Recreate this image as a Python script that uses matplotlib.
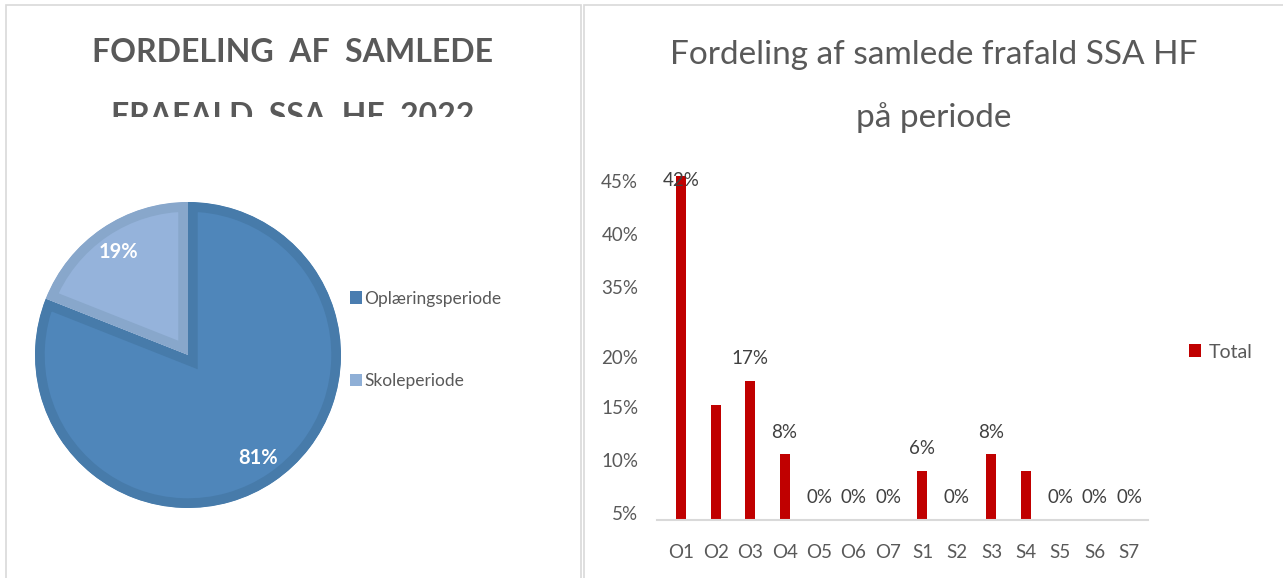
import matplotlib.pyplot as plt
from matplotlib.patches import Patch, Rectangle
from matplotlib.transforms import Bbox

plt.rcParams['font.family'] = ['Lato', 'DejaVu Sans']

# pie data
pie_labels = ['Oplæringsperiode', 'Skoleperiode']
pie_values = [81, 19]
pie_colors = ['#4F86BA', '#95B3DB']
pie_edges = ['#477BAA', '#88A7CB']

# bar data
periods = ['O1', 'O2', 'O3', 'O4', 'O5', 'O6', 'O7',
           'S1', 'S2', 'S3', 'S4', 'S5', 'S6', 'S7']
totals = [42, 14, 17, 8, 0, 0, 0, 6, 0, 8, 6, 0, 0, 0]
# O2 and S4 had no visible label in the original
bar_texts = ['42%', '', '17%', '8%', '0%', '0%', '0%',
             '6%', '0%', '8%', '', '0%', '0%', '0%']
# the y axis labels in the source don't sit on a regular scale
ytick_pos = [41.3, 34.9, 28.4, 19.9, 13.8, 7.3, 0.85]
ytick_txt = ['45%', '40%', '35%', '20%', '15%', '10%', '5%']

W, H = 1283, 578
fig = plt.figure(figsize=(W / 100, H / 100), dpi=100)

def px_axes(x0, y0, x1, y1):
    return fig.add_axes([x0 / W, 1 - y1 / H, (x1 - x0) / W, (y1 - y0) / H])

grey = '#595959'

# panel borders
fig.add_artist(Rectangle((5.5 / W, -0.1), (581 - 5.5) / W, 1.1 - 5.5 / H,
                         transform=fig.transFigure, fill=False,
                         edgecolor='#D9D9D9', linewidth=1.2))
fig.add_artist(Rectangle((584 / W, -0.1), 1.0, 1.1 - 5.5 / H,
                         transform=fig.transFigure, fill=False,
                         edgecolor='#D9D9D9', linewidth=1.2))

# ---- left: pie ----
fig.text(293 / W, 1 - 53 / H, 'FORDELING  AF  SAMLEDE', ha='center', va='center',
         fontsize=23, fontweight='bold', color=grey)
t2 = fig.text(293 / W, 1 - 116 / H, 'FRAFALD  SSA  HF  2022', ha='center', va='center',
              fontsize=23, fontweight='bold', color=grey)
t2.set_clip_box(Bbox.from_extents(0, H - 117, 580, H))
t2.set_clip_on(True)

ax_pie = px_axes(35, 202, 341, 508)
wedges, _, autotexts = ax_pie.pie(
    pie_values, colors=pie_colors, startangle=90, counterclock=False,
    autopct='%1.0f%%', pctdistance=0.81,
    textprops=dict(color='white', fontweight='bold', fontsize=14.5),
    wedgeprops=dict(linewidth=14, joinstyle='miter'))
for w, ec in zip(wedges, pie_edges):
    w.set_edgecolor(ec)
    w.set_clip_on(True)
    w.set_clip_path(w)
ax_pie.set_xlim(-1, 1)
ax_pie.set_ylim(-1, 1)

handles = [Patch(facecolor=c) for c in ['#4A7DB0', '#8FAFD6']]
ax_pie.legend(handles, pie_labels, loc='center left',
              bbox_to_anchor=(334 / W, 1 - 340 / H), bbox_transform=fig.transFigure,
              frameon=False, fontsize=12.5, labelcolor=grey, labelspacing=3.85,
              handlelength=0.7, handleheight=0.7, handletextpad=0.15)

# ---- right: bars ----
fig.text(934 / W, 1 - 55 / H, 'Fordeling af samlede frafald SSA HF', ha='center',
         va='center', fontsize=24, color=grey)
fig.text(934 / W, 1 - 118 / H, 'på periode', ha='center', va='center',
         fontsize=24, color=grey)

ax = px_axes(657, 160, 1148, 520)
x = range(len(periods))
bars = ax.bar(x, totals, width=0.29, color='#C00000')
ax.set_xlim(-0.7, 13.54)
ax.set_ylim(0, 360 / 8.2)
for i, v in enumerate(totals):
    if bar_texts[i]:
        ax.text(i, min(v + 2.7, 41.4), bar_texts[i], ha='center', va='center',
                fontsize=13.5, color='#404040')

ax.set_xticks(list(x))
ax.set_xticklabels(periods)
ax.set_yticks(ytick_pos)
ax.set_yticklabels(ytick_txt)
ax.tick_params(axis='both', length=0, labelsize=13.5, labelcolor=grey)
ax.tick_params(axis='x', pad=17)
ax.tick_params(axis='y', pad=13.5)
for s in ['top', 'right', 'left']:
    ax.spines[s].set_visible(False)
ax.spines['bottom'].set_color('#D9D9D9')
ax.spines['bottom'].set_linewidth(1.5)

ax.legend([Patch(facecolor='#C00000')], ['Total'], loc='center left',
          bbox_to_anchor=(1171 / W, 1 - 352 / H), bbox_transform=fig.transFigure,
          frameon=False, fontsize=14, labelcolor=grey,
          handlelength=0.65, handleheight=0.65, handletextpad=0.4)

fig.savefig('out.png', dpi=100)
